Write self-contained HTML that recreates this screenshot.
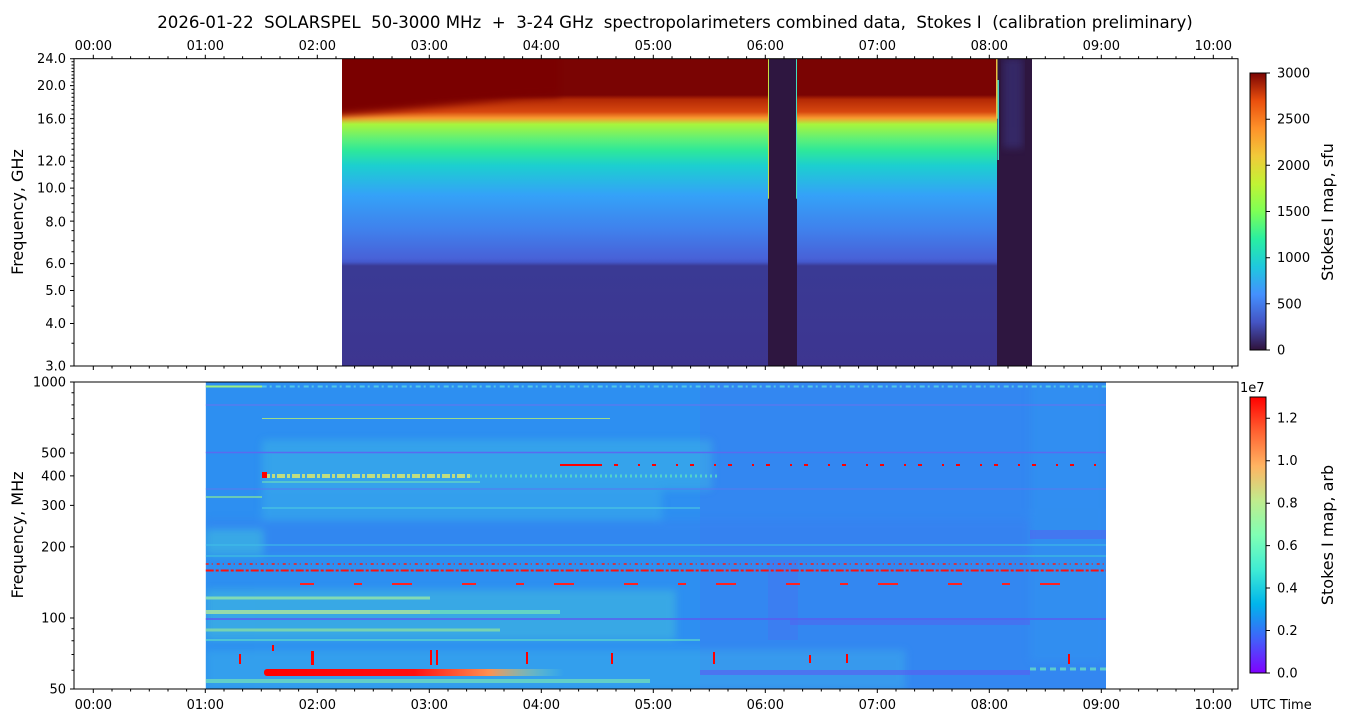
<!DOCTYPE html>
<html><head><meta charset="utf-8"><style>
html,body{margin:0;padding:0;background:#fff;}
svg{display:block;font-family:"DejaVu Sans","Liberation Sans",sans-serif;}
</style></head><body>
<svg width="1350" height="725" viewBox="0 0 1350 725" xmlns="http://www.w3.org/2000/svg">
<defs>
<linearGradient id="tg" gradientUnits="userSpaceOnUse" x1="0" y1="58" x2="0" y2="366">
<stop offset="0" stop-color="#7a0403"/>
<stop offset="0.12" stop-color="#7a0403"/>
<stop offset="0.135" stop-color="#b52a05"/>
<stop offset="0.175" stop-color="#d8480f"/>
<stop offset="0.195" stop-color="#f89a30"/>
<stop offset="0.215" stop-color="#a8f53c"/>
<stop offset="0.265" stop-color="#5cf07a"/>
<stop offset="0.3" stop-color="#2ee89a"/>
<stop offset="0.35" stop-color="#1ccfd0"/>
<stop offset="0.445" stop-color="#34a2f8"/>
<stop offset="0.56" stop-color="#4080ec"/>
<stop offset="0.65" stop-color="#4862d8"/>
<stop offset="0.662" stop-color="#4459cc"/>
<stop offset="0.675" stop-color="#3a3a94"/>
<stop offset="1" stop-color="#3d3590"/>
</linearGradient>
<filter id="bl" x="-10%" y="-10%" width="120%" height="120%"><feGaussianBlur stdDeviation="4"/></filter>
<linearGradient id="cb1" x1="0" y1="1" x2="0" y2="0">
<stop offset="0" stop-color="#30123b"/><stop offset="0.1" stop-color="#4454c4"/>
<stop offset="0.2" stop-color="#4490fe"/><stop offset="0.3" stop-color="#1fc8de"/>
<stop offset="0.4" stop-color="#29efa2"/><stop offset="0.5" stop-color="#7dff56"/>
<stop offset="0.6" stop-color="#c1f334"/><stop offset="0.7" stop-color="#f1ca3a"/>
<stop offset="0.8" stop-color="#fe922a"/><stop offset="0.9" stop-color="#ea4f0d"/>
<stop offset="1" stop-color="#7a0403"/>
</linearGradient>
<linearGradient id="cb2" x1="0" y1="1" x2="0" y2="0">
<stop offset="0" stop-color="#8000ff"/><stop offset="0.125" stop-color="#4062fa"/>
<stop offset="0.25" stop-color="#00b5eb"/><stop offset="0.375" stop-color="#40ecd4"/>
<stop offset="0.5" stop-color="#80ffb4"/><stop offset="0.625" stop-color="#c0eb8d"/>
<stop offset="0.75" stop-color="#ffb462"/><stop offset="0.875" stop-color="#ff6231"/>
<stop offset="1" stop-color="#ff0000"/>
</linearGradient>
<linearGradient id="redstreak" x1="0" y1="0" x2="1" y2="0">
<stop offset="0" stop-color="#ff0000"/><stop offset="0.5" stop-color="#ff1010"/><stop offset="0.75" stop-color="#ff9050"/><stop offset="1" stop-color="#80ffb4" stop-opacity="0"/>
</linearGradient>
<clipPath id="topclip"><rect x="342" y="58.7" width="690" height="307.3"/></clipPath>
<clipPath id="botclip"><rect x="205.7" y="382" width="900.3" height="307"/></clipPath>
</defs>

<text x="675" y="28" font-size="16.6" text-anchor="middle" xml:space="preserve" style="white-space:pre">2026-01-22  SOLARSPEL  50-3000 MHz  +  3-24 GHz  spectropolarimeters combined data,  Stokes I  (calibration preliminary)</text>

<!-- TOP PANEL -->
<g clip-path="url(#topclip)">
<rect x="342" y="58.7" width="655" height="307.3" fill="url(#tg)"/>
<polygon points="330,40 560,40 560,96 520,98 460,104 400,110 330,116" fill="#7a0403" filter="url(#bl)"/>
<rect x="768" y="50" width="29" height="320" fill="#2e1640"/>
<rect x="768" y="58.7" width="1" height="140" fill="#c8e040"/>
<rect x="796" y="58.7" width="1" height="140" fill="#40e0c0"/>
<rect x="997" y="50" width="40" height="320" fill="#2e1640"/>
<rect x="1003" y="58" width="20" height="90" fill="#3a3580" opacity="0.6" filter="url(#bl)"/>
<rect x="996" y="58.7" width="1.5" height="60" fill="#e8c040"/>
<rect x="997.5" y="80" width="1.5" height="80" fill="#40d0c0"/>
</g>
<rect x="74" y="58.7" width="1164" height="307.3" fill="none" stroke="#000" stroke-width="1"/>

<!-- BOTTOM PANEL -->
<g clip-path="url(#botclip)">
<rect x="205.7" y="382" width="900.3" height="307" fill="#2d8ff1"/>
<rect x="700" y="382" width="406" height="307" fill="#3a80f2" opacity="0.5"/>
<g opacity="0.35" filter="url(#bl)">
<rect x="262" y="440" width="450" height="50" fill="#45c8e0"/>
<rect x="262" y="490" width="400" height="30" fill="#3fbde6"/>
<rect x="205.7" y="520" width="900" height="35" fill="#3b7af0"/>
<rect x="205.7" y="530" width="57" height="25" fill="#50d8d0"/>
<rect x="205.7" y="590" width="470" height="50" fill="#50d8d0"/>
<rect x="205.7" y="650" width="700" height="40" fill="#3fbde6"/>
<rect x="1030" y="382" width="76" height="280" fill="#2d9cf0"/>
</g>
<rect x="768" y="560" width="30" height="80" fill="#4a6cf0" opacity="0.35"/>
<rect x="790" y="620" width="240" height="5" fill="#5560f0" opacity="0.5"/>
<rect x="700" y="670" width="330" height="5" fill="#5a5cf2" opacity="0.6"/>
<rect x="1030" y="530" width="76" height="9" fill="#5560f0" opacity="0.5"/>
<g>
<line x1="205.7" y1="386.5" x2="1106" y2="386.5" stroke="#50c8e8" stroke-width="2" stroke-dasharray="5 3 2 4"/>
<line x1="205.7" y1="386.5" x2="262" y2="386.5" stroke="#a0f080" stroke-width="2"/>
<line x1="205.7" y1="405" x2="1106" y2="405" stroke="#6a70f0" stroke-width="1"/>
<line x1="262" y1="418.5" x2="610" y2="418.5" stroke="#b8f070" stroke-width="1" opacity="0.8"/>
<line x1="205.7" y1="452.5" x2="1106" y2="452.5" stroke="#5a6af0" stroke-width="1.5"/>
<line x1="262" y1="476" x2="470" y2="476" stroke="#d8e870" stroke-width="4" stroke-dasharray="8 2 3 2" opacity="0.85"/>
<line x1="470" y1="476" x2="720" y2="476" stroke="#60e8c0" stroke-width="3" stroke-dasharray="2 3" opacity="0.7"/>
<line x1="262" y1="482" x2="480" y2="482" stroke="#80f0b0" stroke-width="1.5" opacity="0.6"/>
<line x1="205.7" y1="489" x2="1106" y2="489" stroke="#5a78f0" stroke-width="1"/>
<line x1="205.7" y1="497" x2="262" y2="497" stroke="#90f090" stroke-width="2" opacity="0.6"/>
<line x1="262" y1="508" x2="700" y2="508" stroke="#50d0e0" stroke-width="2" opacity="0.5"/>
<line x1="205.7" y1="545" x2="1106" y2="545" stroke="#40c0e8" stroke-width="2" opacity="0.5"/>
<line x1="205.7" y1="556" x2="1106" y2="556" stroke="#40c8e0" stroke-width="2" opacity="0.5"/>
<line x1="205.7" y1="598" x2="430" y2="598" stroke="#a0f0a0" stroke-width="3" opacity="0.7"/>
<line x1="205.7" y1="612" x2="430" y2="612" stroke="#c0f090" stroke-width="4" opacity="0.7"/>
<line x1="430" y1="612" x2="560" y2="612" stroke="#80f0b0" stroke-width="4" opacity="0.6"/>
<line x1="205.7" y1="619" x2="1106" y2="619" stroke="#5a5cf0" stroke-width="1.5"/>
<line x1="205.7" y1="630" x2="500" y2="630" stroke="#a0f090" stroke-width="3" opacity="0.6"/>
<line x1="205.7" y1="640" x2="700" y2="640" stroke="#60e0c8" stroke-width="2" opacity="0.6"/>
<line x1="205.7" y1="681" x2="650" y2="681" stroke="#80f0b0" stroke-width="4" opacity="0.6"/>
<line x1="1030" y1="669" x2="1106" y2="669" stroke="#70e8c0" stroke-width="3" stroke-dasharray="6 4" opacity="0.7"/>
</g>
<line x1="205.7" y1="564" x2="1106" y2="564" stroke="#ff1a10" stroke-width="1.5" stroke-dasharray="3 3 1 4"/>
<line x1="205.7" y1="570.5" x2="1106" y2="570.5" stroke="#ff1010" stroke-width="2" stroke-dasharray="8 2 3 2"/>
<line x1="560" y1="465" x2="600" y2="465" stroke="#ff0000" stroke-width="2"/>
<line x1="600" y1="465" x2="1106" y2="465" stroke="#ff0000" stroke-width="2" stroke-dasharray="2 12 4 20"/>
<line x1="300" y1="584" x2="1106" y2="584" stroke="#ff2020" stroke-width="2" stroke-dasharray="14 40 8 30 20 50"/>
<rect x="264" y="669" width="300" height="7" fill="url(#redstreak)" rx="3"/>
<g fill="#ff0000">
<rect x="239" y="654" width="2" height="10"/><rect x="272" y="645" width="2" height="6"/>
<rect x="311" y="651" width="3" height="14"/><rect x="430" y="650" width="2" height="15"/>
<rect x="436" y="650" width="2" height="15"/><rect x="526" y="652" width="2" height="12"/>
<rect x="611" y="653" width="2" height="11"/><rect x="713" y="652" width="2" height="12"/>
<rect x="809" y="655" width="2" height="8"/><rect x="846" y="654" width="2" height="9"/>
<rect x="1068" y="654" width="2" height="10"/><rect x="262" y="472" width="5" height="6"/>
</g>
</g>
<rect x="74" y="382" width="1164" height="307" fill="none" stroke="#000" stroke-width="1"/>

<g font-size="13" text-anchor="middle" fill="#000">
<text x="93.3" y="50">00:00</text><text x="205.3" y="50">01:00</text><text x="317.3" y="50">02:00</text>
<text x="429.3" y="50">03:00</text><text x="541.3" y="50">04:00</text><text x="653.3" y="50">05:00</text>
<text x="765.3" y="50">06:00</text><text x="877.3" y="50">07:00</text><text x="989.3" y="50">08:00</text>
<text x="1101.3" y="50">09:00</text><text x="1213.3" y="50">10:00</text>
<text x="93.3" y="709">00:00</text><text x="205.3" y="709">01:00</text><text x="317.3" y="709">02:00</text>
<text x="429.3" y="709">03:00</text><text x="541.3" y="709">04:00</text><text x="653.3" y="709">05:00</text>
<text x="765.3" y="709">06:00</text><text x="877.3" y="709">07:00</text><text x="989.3" y="709">08:00</text>
<text x="1101.3" y="709">09:00</text><text x="1213.3" y="709">10:00</text>
</g>
<path stroke="#000" stroke-width="1" fill="none" d="
M93.3 58.7v-4M205.3 58.7v-4M317.3 58.7v-4M429.3 58.7v-4M541.3 58.7v-4M653.3 58.7v-4M765.3 58.7v-4M877.3 58.7v-4M989.3 58.7v-4M1101.3 58.7v-4M1213.3 58.7v-4
M93.3 366v4M205.3 366v4M317.3 366v4M429.3 366v4M541.3 366v4M653.3 366v4M765.3 366v4M877.3 366v4M989.3 366v4M1101.3 366v4M1213.3 366v4
M93.3 689v4M205.3 689v4M317.3 689v4M429.3 689v4M541.3 689v4M653.3 689v4M765.3 689v4M877.3 689v4M989.3 689v4M1101.3 689v4M1213.3 689v4"/>
<g id="minor"></g>
<script>
(function(){
var s='',ns='http://www.w3.org/2000/svg';
for(var h=-1;h<11;h++)for(var m=1;m<6;m++){var x=93.3+112*h+m*112/6;if(x<75||x>1237)continue;
s+='M'+x.toFixed(1)+' 58.7v-2.5M'+x.toFixed(1)+' 366v2.5M'+x.toFixed(1)+' 689v2.5';}
function yt(f){return 366-307.3*Math.log(f/3)/Math.log(8);}
function yb(f){return 689-307*Math.log(f/50)/Math.log(20);}
for(var f=3;f<=24;f+=0.5){var y=yt(f);s+='M74 '+y.toFixed(1)+'h-2.5';}
[60,70,80,90,600,700,800,900].forEach(function(f){s+='M74 '+yb(f).toFixed(1)+'h-2.5';});
[50,100,200,300,400,500,1000].forEach(function(f){s+='M74 '+yb(f).toFixed(1)+'h-4';});
[3,4,5,6,8,10,12,16,20,24].forEach(function(f){s+='M74 '+yt(f).toFixed(1)+'h-4';});
var p=document.createElementNS(ns,'path');p.setAttribute('d',s);p.setAttribute('stroke','#000');p.setAttribute('fill','none');
document.getElementById('minor').appendChild(p);
})();
</script>
<g font-size="13" text-anchor="end">
<text x="66" y="63">24.0</text><text x="66" y="90">20.0</text><text x="66" y="123.5">16.0</text>
<text x="66" y="165.5">12.0</text><text x="66" y="192.5">10.0</text><text x="66" y="226.5">8.0</text>
<text x="66" y="268">6.0</text><text x="66" y="295">5.0</text><text x="66" y="328">4.0</text><text x="66" y="370.5">3.0</text>
<text x="66" y="386.5">1000</text><text x="66" y="457.5">500</text><text x="66" y="480.5">400</text>
<text x="66" y="510">300</text><text x="66" y="551.5">200</text><text x="66" y="622.5">100</text><text x="66" y="693.5">50</text>
</g>
<text transform="translate(23,212) rotate(-90)" font-size="16" text-anchor="middle">Frequency, GHz</text>
<text transform="translate(23,535) rotate(-90)" font-size="16" text-anchor="middle">Frequency, MHz</text>

<rect x="1250" y="73" width="16" height="277" fill="url(#cb1)" stroke="#000" stroke-width="1"/>
<path stroke="#000" d="M1266 350h4M1266 303.8h4M1266 257.7h4M1266 211.5h4M1266 165.3h4M1266 119.2h4M1266 73h4"/>
<g font-size="13"><text x="1277" y="354.5">0</text><text x="1277" y="308.3">500</text><text x="1277" y="262.2">1000</text>
<text x="1277" y="216">1500</text><text x="1277" y="169.8">2000</text><text x="1277" y="123.7">2500</text><text x="1277" y="77.5">3000</text></g>
<text transform="translate(1333,212) rotate(-90)" font-size="16" text-anchor="middle">Stokes I map, sfu</text>

<rect x="1250" y="397" width="16" height="276" fill="url(#cb2)" stroke="#000" stroke-width="1"/>
<path stroke="#000" d="M1266 673h4M1266 630.5h4M1266 588h4M1266 545.6h4M1266 503.2h4M1266 460.7h4M1266 418.2h4"/>
<g font-size="13"><text x="1277" y="677.5">0.0</text><text x="1277" y="635">0.2</text><text x="1277" y="592.5">0.4</text>
<text x="1277" y="550">0.6</text><text x="1277" y="507.7">0.8</text><text x="1277" y="465.2">1.0</text><text x="1277" y="422.7">1.2</text>
<text x="1240" y="392">1e7</text></g>
<text transform="translate(1333,535) rotate(-90)" font-size="16" text-anchor="middle">Stokes I map, arb</text>
<text x="1250" y="709" font-size="13">UTC Time</text>
</svg>
</body></html>
